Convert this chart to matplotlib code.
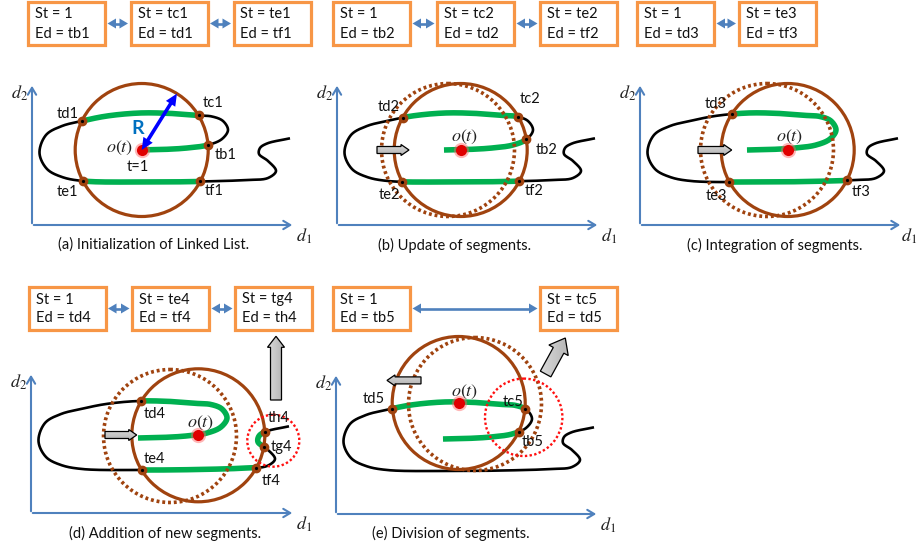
import numpy as np
import matplotlib
matplotlib.use('Agg')
import matplotlib.pyplot as plt
from matplotlib.patches import Rectangle, Circle, FancyArrow

plt.rcParams['mathtext.fontset'] = 'stix'
FONT = 'Lato'

# ---------------- data ----------------
# trajectory control points (shared by all panels), relative to each panel's axis origin (y up)
curve_x = [107, 130, 155, 176, 190, 196, 191, 180, 167, 140, 108, 75, 50, 30, 14, 7.5, 15, 30, 51,
           110, 167, 215, 236, 244, 236, 227, 228, 235, 258]
curve_y = [75, 75.5, 77, 80, 86, 95, 104, 108.5, 109.5, 111.5, 112, 109, 104, 99, 90, 72, 56, 48, 44,
           43, 43.5, 45, 47, 54, 64, 71, 77, 81.5, 86.7]

radius = 66.5
R_angle = 58  # degrees, direction of the radius arrow in panel (a)

# current centre o(t) per panel (relative coordinates)
ot_x = [109.7, 123.7, 147.7, 167.3, 122.7]
ot_y = [75, 75, 75, 77.7, 111]
# previous centre (dotted circle)
prev_x = [None, 111, 127, 139, 139]
prev_y = [None, 75, 75, 77, 110]
# red dotted search circles
red_x = [None, None, None, 242.3, 187.7]
red_y = [None, None, None, 72.3, 96.7]
red_r = [None, None, None, 26, 38.7]

# crossing point names in order along the trajectory
cross_names = [['tb1', 'tc1', 'td1', 'te1', 'tf1'],
               ['tb2', 'tc2', 'td2', 'te2', 'tf2'],
               ['td3', 'te3', 'tf3'],
               ['td4', 'te4', 'tf4', 'tg4', 'th4'],
               ['tb5', 'tc5', 'td5']]
# label offsets (pixels) from each crossing point
cross_off = [[(18, 10), (15, -12), (-14, -7), (-15, 11), (14, 10)],
             [(20, 11), (12, -18), (-14, -11), (-13, 13), (15, 10)],
             [(-16, -10), (-13, 14), (14, 12)],
             [(13, 13), (13, -11), (15, 13), (18, 0), (14, -14)],
             [(14, 10), (-12, -7), (-19, -10)]]
ot_label_off = [(-22, -2), (4, -13), (2, -13), (2, -12), (6, -11)]

# linked-list boxes
box_st = [['1', 'tc1', 'te1'], ['1', 'tc2', 'te2'], ['1', 'te3'], ['1', 'te4', 'tg4'], ['1', 'tc5']]
box_ed = [['tb1', 'td1', 'tf1'], ['tb2', 'td2', 'tf2'], ['td3', 'tf3'], ['td4', 'tf4', 'th4'], ['tb5', 'td5']]
box_left = [[28, 130.5, 233.5], [333, 437, 540], [637, 738.5], [28.5, 132, 235], [333, 540]]
box_top = [2, 2, 2, 287, 287]
box_w, box_h = 77, 43

captions = ['(a) Initialization of Linked List.', '(b) Update of segments.',
            '(c) Integration of segments.', '(d) Addition of new segments.',
            '(e) Division of segments.']
caption_x = [154, 455, 775, 165, 451]
caption_y = [245, 245, 245, 533, 533]

# panel axes
org_x = [32, 337, 640, 31, 336]
org_y = [225, 225, 225, 513, 514]
axis_top = [83, 83, 83, 372, 373]
axis_right = [295, 600, 903, 295, 599]

# grey block arrows: (panel, tail_x, tail_y, tip_x, tip_y, body_w, head_w, head_l) relative coords
block_arrows = [(1, 40, 75, 72, 75, 7, 11, 8),
                (2, 58, 75, 91.7, 75, 7, 11, 8),
                (3, 74, 78, 105.7, 78, 7, 11, 8),
                (4, 85, 133.6, 51, 133.6, 7, 11, 8),
                (3, 245, 113, 245, 176.7, 11, 17, 11),
                (4, 209.6, 140, 229.3, 176, 12, 22, 14)]

# colours
BROWN = '#A0430F'
GREEN = '#00B050'
ORANGE = '#F79646'
AXBLUE = '#4F81BD'
REDDOT = '#E00000'


def catmull_rom(xs, ys, n=60, alpha=0.5):
    P = np.column_stack([xs, ys]).astype(float)
    P = np.vstack([2 * P[0] - P[1], P, 2 * P[-1] - P[-2]])
    out = []
    for i in range(1, len(P) - 2):
        p0, p1, p2, p3 = P[i - 1], P[i], P[i + 1], P[i + 2]
        t0 = 0.0
        t1 = t0 + np.linalg.norm(p1 - p0) ** alpha
        t2 = t1 + np.linalg.norm(p2 - p1) ** alpha
        t3 = t2 + np.linalg.norm(p3 - p2) ** alpha
        t = np.linspace(t1, t2, n, endpoint=False)[:, None]
        A1 = (t1 - t) / (t1 - t0) * p0 + (t - t0) / (t1 - t0) * p1
        A2 = (t2 - t) / (t2 - t1) * p1 + (t - t1) / (t2 - t1) * p2
        A3 = (t3 - t) / (t3 - t2) * p2 + (t - t2) / (t3 - t2) * p3
        B1 = (t2 - t) / (t2 - t0) * A1 + (t - t0) / (t2 - t0) * A2
        B2 = (t3 - t) / (t3 - t1) * A2 + (t - t1) / (t3 - t1) * A3
        C = (t2 - t) / (t2 - t1) * B1 + (t - t1) / (t2 - t1) * B2
        out.append(C)
    out.append(P[-2][None, :])
    return np.vstack(out)


def crossings(px, py, cx, cy, r):
    d = np.hypot(px - cx, py - cy) - r
    idx = np.where(np.sign(d[:-1]) != np.sign(d[1:]))[0]
    pts = []
    for i in idx:
        t = d[i] / (d[i] - d[i + 1])
        pts.append((px[i] + t * (px[i + 1] - px[i]), py[i] + t * (py[i + 1] - py[i])))
    return pts


def double_arrow(x0, y0, x1, y1, color, lw, hl, hw):
    """Line with two filled triangular heads (pixel coordinates)."""
    v = np.array([x1 - x0, y1 - y0], float)
    L = np.hypot(*v)
    u = v / L
    n = np.array([-u[1], u[0]])
    a = np.array([x0, y0], float)
    b = np.array([x1, y1], float)
    ax.plot([a[0] + u[0] * hl * 0.8, b[0] - u[0] * hl * 0.8],
            [a[1] + u[1] * hl * 0.8, b[1] - u[1] * hl * 0.8], color=color, lw=lw,
            solid_capstyle='butt', zorder=10)
    for tip, d in ((a, u), (b, -u)):
        base = tip + d * hl
        tri = np.array([tip, base + n * hw / 2, base - n * hw / 2])
        ax.fill(tri[:, 0], tri[:, 1], color=color, lw=0, zorder=10)


fig = plt.figure(figsize=(9.18, 5.48), dpi=100)
ax = fig.add_axes([0, 0, 1, 1])
ax.set_xlim(0, 918)
ax.set_ylim(548, 0)
ax.axis('off')

curve = catmull_rom(curve_x, curve_y)

for p in range(5):
    ox, oy = org_x[p], org_y[p]
    X = lambda rx: ox + np.asarray(rx)
    Y = lambda ry: oy - np.asarray(ry)

    # axes
    ax.annotate('', xy=(ox, axis_top[p]), xytext=(ox, oy + 1),
                arrowprops=dict(arrowstyle='->,head_length=0.5,head_width=0.3', color=AXBLUE, lw=1.5))
    ax.annotate('', xy=(axis_right[p], oy), xytext=(ox - 1, oy),
                arrowprops=dict(arrowstyle='->,head_length=0.5,head_width=0.3', color=AXBLUE, lw=1.5))
    ax.text(ox - 12, axis_top[p] + 10, r'$d_2$', fontsize=13, ha='center', va='center', color='#222222')
    ax.text(min(axis_right[p] + 9, 909), oy + 11, r'$d_1$', fontsize=13, ha='center', va='center',
            color='#222222')

    cx, cy = ot_x[p], ot_y[p]
    px_, py_ = curve[:, 0], curve[:, 1]
    inside = np.hypot(px_ - cx, py_ - cy) < radius

    # black trajectory
    ax.plot(X(px_), Y(py_), color='black', lw=1.9, zorder=2, solid_capstyle='butt')
    # green part inside the circle
    gx = np.where(inside, px_, np.nan)
    gy = np.where(inside, py_, np.nan)
    ax.plot(X(gx), Y(gy), color=GREEN, lw=4.0, zorder=3, solid_capstyle='butt')

    # previous (dotted) circle
    if prev_x[p] is not None:
        ax.add_patch(Circle((X(prev_x[p]), Y(prev_y[p])), radius, fill=False, ec=BROWN, lw=2.6,
                            ls=(0, (0.8, 0.8)), zorder=4))
    # current circle
    ax.add_patch(Circle((X(cx), Y(cy)), radius, fill=False, ec=BROWN, lw=2.3, zorder=5))
    # red search circle
    if red_x[p] is not None:
        ax.add_patch(Circle((X(red_x[p]), Y(red_y[p])), red_r[p], fill=False, ec='#FF1010', lw=1.7,
                            ls=(0, (1, 1)), zorder=5))

    # crossing points
    pts = crossings(px_, py_, cx, cy, radius)
    for (qx, qy), name, (dx, dy) in zip(pts, cross_names[p], cross_off[p]):
        ax.plot(X(qx), Y(qy), 'o', ms=6, color=BROWN, mec=BROWN, zorder=6)
        ax.plot(X(qx), Y(qy), 'o', ms=1.3, color='black', zorder=7)
        ax.text(X(qx) + dx, Y(qy) + dy, name, fontsize=10.5, family=FONT, ha='center', va='center',
                color='#111111', zorder=8)

    # centre o(t)
    ax.plot(X(cx), Y(cy), 'o', ms=11, color='#FF6060', alpha=0.45, mec='none', zorder=8)
    ax.plot(X(cx), Y(cy), 'o', ms=8, color=REDDOT, mec='none', zorder=9)
    dx, dy = ot_label_off[p]
    ax.text(X(cx) + dx, Y(cy) + dy, r'$o(t)$', fontsize=13, ha='center', va='center',
            color='#222222', zorder=9)

    # caption
    ax.text(caption_x[p], caption_y[p], captions[p], fontsize=10.5, family=FONT, ha='center',
            va='center', color='#111111')

    # linked-list boxes
    lefts = box_left[p]
    top = box_top[p]
    for i, l in enumerate(lefts):
        ax.add_patch(Rectangle((l, top), box_w, box_h, fill=True, fc='white', ec=ORANGE, lw=2.3, zorder=5))
        ax.text(l + 7, top + 12.5, 'St = ' + box_st[p][i], fontsize=10.5, family=FONT,
                ha='left', va='center', color='#111111', zorder=6)
        ax.text(l + 7, top + 31.5, 'Ed = ' + box_ed[p][i], fontsize=10.5, family=FONT,
                ha='left', va='center', color='#111111', zorder=6)
        if i > 0:
            ymid = top + box_h / 2
            double_arrow(lefts[i - 1] + box_w + 2.5, ymid, l - 2.5, ymid, AXBLUE, 1.9, 8.5, 10)

# radius arrow and labels for panel (a)
ox, oy = org_x[0], org_y[0]
cx, cy = ot_x[0], ot_y[0]
ex = cx + radius * np.cos(np.radians(R_angle))
ey = cy + radius * np.sin(np.radians(R_angle))
double_arrow(ox + cx, oy - cy, ox + ex, oy - ey, '#0000FF', 2.6, 12, 11)
ax.text(ox + cx - 4, oy - cy - 22, 'R', fontsize=14, fontweight='bold', family=FONT,
        color='#0070C0', ha='center', va='center', zorder=10)
ax.text(ox + cx - 4, oy - cy + 17, 't=1', fontsize=10.5, family=FONT, ha='center', va='center',
        color='#111111', zorder=10)

# grey block arrows with gradient
for (p, tx, ty, hx, hy, bw, hw, hl) in block_arrows:
    ox, oy = org_x[p], org_y[p]
    x0, y0 = ox + tx, oy - ty
    x1, y1 = ox + hx, oy - hy
    arr = FancyArrow(x0, y0, x1 - x0, y1 - y0, width=bw, head_width=hw, head_length=hl,
                     length_includes_head=True, fc='none', ec='black', lw=0.9, zorder=12)
    ax.add_patch(arr)
    xs = [min(x0, x1) - hw, max(x0, x1) + hw]
    ys = [min(y0, y1) - hw, max(y0, y1) + hw]
    grad = np.linspace(0.93, 0.62, 64)[:, None] * np.ones((1, 64))
    if abs(y1 - y0) > abs(x1 - x0):
        grad = grad.T
    im = ax.imshow(grad, extent=[xs[0], xs[1], ys[1], ys[0]], cmap='gray', vmin=0, vmax=1,
                   zorder=11, interpolation='bilinear')
    im.set_clip_path(arr)

ax.set_xlim(0, 918)
ax.set_ylim(548, 0)
ax.set_aspect('auto')
fig.savefig('out.png', dpi=100)
